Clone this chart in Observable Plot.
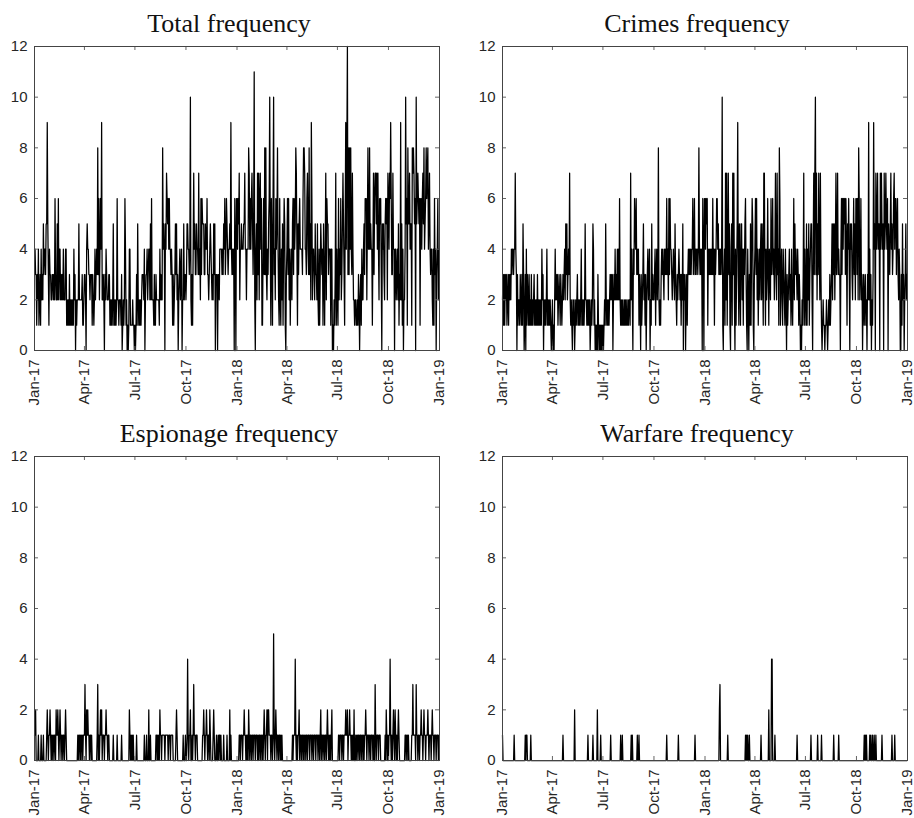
<!DOCTYPE html>
<html>
<head>
<meta charset="utf-8">
<script src="https://cdn.jsdelivr.net/npm/d3@7"></script>
<script src="https://cdn.jsdelivr.net/npm/@observablehq/plot@0.6"></script>
<style>
  body { margin: 0; background: #fff; overflow: hidden; }
  #chart { position: relative; width: 914px; height: 818px; }
  #chart svg { position: absolute; overflow: visible; }
</style>
</head>
<body>
<div id="chart"></div>
<script>
// Daily event counts, one string per month (Jan-2017 … Dec-2018),
// one character per day; "a" stands for 10.
const crimesByMonth = [
  "23131 32312 31323 24344 34474 30312 2", // Jan-17
  "13213 15301 30413 21312 13121 231",     // Feb-17
  "21213 12121 21423 02121 24121 21210 1", // Mar-17
  "20102 42323 12321 32123 23425 35234",   // Apr-17
  "37212 10212 01212 31212 12412 12125 2", // May-17
  "21212 12012 12541 20101 03101 01010",   // Jun-17
  "10121 52121 21232 32302 32423 24242 6", // Jul-17
  "21212 11212 12112 12217 24204 36546 3", // Aug-17
  "43413 20312 35231 30234 23402 15232",   // Sep-17
  "23413 42382 12134 34324 34363 42636 4", // Oct-17
  "43234 32532 13234 32313 25032 30231",   // Nov-17
  "34343 43446 34634 34434 84343 40640 6", // Dec-17
  "64656 14343 43436 34143 46645 34343 4", // Jan-18
  "a1034 17271 47351 04517 37204 135",     // Feb-18
  "93153 15524 14356 31042 03151 46510 3", // Mar-18
  "46362 41342 45253 17731 42363 14326",   // Apr-18
  "34634 24732 73418 61342 14321 42031 2", // May-18
  "34231 42136 25343 24313 20102 13714",   // Jun-18
  "21514 25134 55204 737a3 72537 42731 0", // Jul-18
  "12110 11210 12131 23525 35247 34734 3", // Aug-18
  "30463 64656 36415 46305 45324 63526",   // Sep-18
  "63628 62362 30231 23120 32924 13021 3", // Oct-18
  "94507 45745 50747 54507 45754 60543",   // Nov-18
  "57453 46746 63563 24300 31523 02352 3"  // Dec-18
];

const espionageByMonth = [
  "11200 00100 00100 01000 00121 01121 0", // Jan-17
  "10110 11021 12101 21011 01101 210",     // Feb-17
  "00000 00000 00000 00001 01101 01101 1", // Mar-17
  "13102 12110 11010 00000 00013 01012",   // Apr-17
  "12011 10112 11011 00000 00100 00001 0", // May-17
  "00000 01000 00000 00000 21010 10100",   // Jun-17
  "00010 00000 00000 00100 01000 20010 0", // Jul-17
  "00000 00110 10102 11011 11101 11110 1", // Aug-17
  "11011 11000 00121 00000 00000 10001",   // Sep-17
  "00141 01120 01013 11011 10000 00000 1", // Oct-17
  "12101 12101 10210 00012 10001 00101",   // Nov-17
  "10100 00100 00010 00020 10000 00000 0", // Dec-17
  "00001 10111 01121 10101 02101 10110 1", // Jan-18
  "11011 10101 10110 10121 01120 221",     // Feb-18
  "11011 01510 12101 10110 10100 00000 0", // Mar-18
  "00000 00000 10111 41010 11201 10110",   // Apr-18
  "10110 11011 10111 01101 11011 10110 1", // May-18
  "20110 11011 01210 10101 20000 00000",   // Jun-18
  "00110 11101 10111 21120 11211 01010 2", // Jul-18
  "00101 10110 11011 01011 21011 10110 1", // Aug-18
  "11010 03101 11011 10000 00001 02101",   // Sep-18
  "01141 01012 10210 10121 00000 00000 1", // Oct-18
  "10110 10000 01131 11103 11011 01121",   // Nov-18
  "10121 10111 21011 10121 10111 01110 1"  // Dec-18
];

// Warfare is sparse: only the days with at least one event.
const warfareDates = [
  "2017-01-01", "2017-01-22", "2017-02-11", "2017-02-13", "2017-02-14", "2017-02-21",
  "2017-04-20", "2017-05-11", "2017-06-04", "2017-06-13", "2017-06-21", "2017-06-27",
  "2017-07-15", "2017-08-02", "2017-08-05", "2017-08-21", "2017-08-23", "2017-09-01",
  "2017-09-04", "2017-10-24", "2017-11-14", "2017-12-14", "2018-01-27", "2018-01-28",
  "2018-02-11", "2018-03-15", "2018-03-17", "2018-03-19", "2018-03-22", "2018-04-12",
  "2018-04-26", "2018-05-01", "2018-05-02", "2018-05-07", "2018-06-16", "2018-07-11",
  "2018-07-23", "2018-07-30", "2018-08-21", "2018-08-30", "2018-10-15", "2018-10-17",
  "2018-10-19", "2018-10-25", "2018-10-27", "2018-10-30", "2018-11-02", "2018-11-05",
  "2018-11-16", "2018-12-04", "2018-12-09"
];
const warfareCounts = [
  1, 1, 1, 1, 1, 1,
  1, 2, 1, 1, 2, 1,
  1, 1, 1, 1, 1, 1,
  1, 1, 1, 1, 2, 3,
  1, 1, 1, 1, 1, 1,
  2, 4, 4, 1, 1, 1,
  1, 1, 1, 1, 1, 1,
  1, 1, 1, 1, 1, 1,
  1, 1, 1
];

const panelTitles = ["Total frequency", "Crimes frequency", "Espionage frequency", "Warfare frequency"];
const xTickDates = ["2017-01-01", "2017-04-01", "2017-07-01", "2017-10-01", "2018-01-01",
                    "2018-04-01", "2018-07-01", "2018-10-01", "2019-01-01"];
const xTickLabels = ["Jan-17", "Apr-17", "Jul-17", "Oct-17", "Jan-18", "Apr-18", "Jul-18", "Oct-18", "Jan-19"];
const yTicks = [0, 2, 4, 6, 8, 10, 12];

// ---- build the daily series ----
const daysIn = (y, m) => new Date(Date.UTC(y, m + 1, 0)).getUTCDate();
function expand(monthStrings) {
  const out = [];
  monthStrings.forEach((s, k) => {
    const y = 2017 + Math.floor(k / 12), m = k % 12;
    const chars = s.replace(/\s/g, "");
    for (let i = 0; i < daysIn(y, m); i++) {
      out.push({date: new Date(Date.UTC(y, m, i + 1)), value: parseInt(chars[i] ?? "0", 16)});
    }
  });
  return out;
}
const crimes = expand(crimesByMonth);
const espionage = expand(espionageByMonth);
const warCount = new Map(warfareDates.map((d, i) => [+new Date(d + "T00:00:00Z"), warfareCounts[i]]));
const warfare = crimes.map(d => ({date: d.date, value: warCount.get(+d.date) ?? 0}));
const total = crimes.map((d, i) => ({date: d.date, value: d.value + espionage[i].value + warfare[i].value}));

// ---- drawing ----
const tickDates = xTickDates.map(d => new Date(d + "T00:00:00Z"));
const W = 405, H = 304, ML = 40, MR = 12, MT = 46, MB = 60;

function panel(title, data, left, top) {
  const svg = Plot.plot({
    width: ML + W + MR,
    height: MT + H + MB,
    marginLeft: ML, marginRight: MR, marginTop: MT, marginBottom: MB,
    style: {fontFamily: "'Liberation Sans', Arial, sans-serif", fontSize: "15px", color: "#262626", background: "transparent", overflow: "visible"},
    x: {type: "utc", domain: [tickDates[0], tickDates[tickDates.length - 1]]},
    y: {domain: [0, 12]},
    marks: [
      Plot.lineY(data, {x: "date", y: "value", stroke: "#000", strokeWidth: 1.25}),
      // inward ticks on all four sides of the box
      Plot.tickY(yTicks, {y: d => d, insetRight: W - 4, stroke: "#666"}),
      Plot.tickY(yTicks, {y: d => d, insetLeft: W - 4, stroke: "#666"}),
      Plot.tickX(tickDates, {x: d => d, insetTop: H - 4, stroke: "#666"}),
      Plot.tickX(tickDates, {x: d => d, insetBottom: H - 4, stroke: "#666"}),
      Plot.frame({stroke: "#444"}),
      Plot.axisY({ticks: yTicks, tickSize: 0, tickPadding: 7, label: null, fontSize: 15}),
      Plot.axisX({
        ticks: tickDates,
        tickFormat: d => xTickLabels[tickDates.findIndex(t => +t === +d)],
        tickSize: 0, tickPadding: 9, tickRotate: -90, label: null, fontSize: 15
      }),
      Plot.text([title], {
        frameAnchor: "top", dx: -8, dy: -23, lineAnchor: "middle",
        fontFamily: "'Liberation Serif', 'Times New Roman', serif", fontSize: 26, fill: "#111"
      })
    ]
  });
  svg.style.left = left + "px";
  svg.style.top = top + "px";
  document.getElementById("chart").appendChild(svg);
}

panel(panelTitles[0], total, -6, 0);
panel(panelTitles[1], crimes, 462, 0);
panel(panelTitles[2], espionage, -6, 410);
panel(panelTitles[3], warfare, 462, 410);
</script>
</body>
</html>
